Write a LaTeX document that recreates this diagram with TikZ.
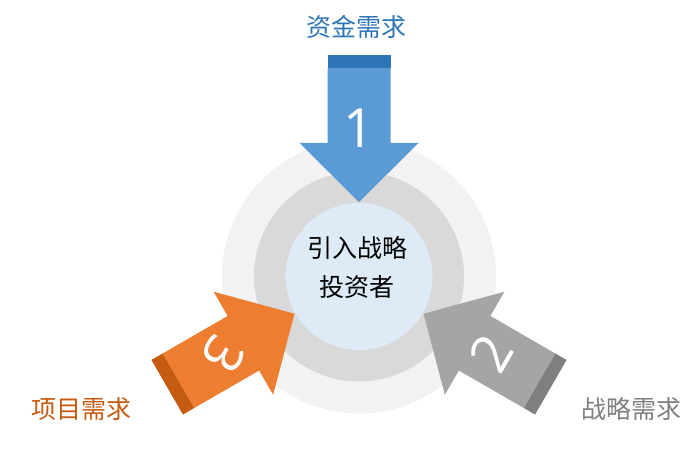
\documentclass[tikz,border=0pt]{standalone}
\usepackage{fontspec}
\setmainfont{Noto Sans CJK SC}
\newfontfamily\digitfont{Open Sans}
\usetikzlibrary{positioning}
\definecolor{ringouter}{RGB}{242,242,242}
\definecolor{ringmid}{RGB}{217,217,217}
\definecolor{corefill}{RGB}{222,235,247}
\definecolor{bluebody}{RGB}{91,155,213}
\definecolor{bluecap}{RGB}{46,117,182}
\definecolor{orangebody}{RGB}{237,125,49}
\definecolor{orangecap}{RGB}{197,90,17}
\definecolor{graybody}{RGB}{165,165,165}
\definecolor{graycap}{RGB}{127,127,127}
\tikzset{
  ring/.style={circle,inner sep=0pt,minimum size=#1},
  numtag/.style={text=white,font=\digitfont\fontsize{54}{54}\selectfont,inner sep=0pt},
  needlabel/.style={font=\fontsize{25}{30}\selectfont,inner sep=0pt}
}
% #1 turn, #2 body, #3 cap, #4 digit, #5 digit turn, #6 digit radius
\newcommand{\needarrow}[6]{
  \begin{scope}[shift={(hub)},rotate=#1]
    \fill[#2] (-31.5,208.5) -- (-31.5,133.5) -- (-59.5,133.5) -- (0,74.5)
      -- (59.5,133.5) -- (31.5,133.5) -- (31.5,208.5) -- cycle;
    \fill[#3] (-31.5,208.5) rectangle (31.5,221.5);
    \node[numtag,rotate=#5] (num#4) at (0,#6) {#4};
  \end{scope}
}

\begin{document}
\begin{tikzpicture}[x=1pt,y=1pt]
  \useasboundingbox (0,0) rectangle (700,453);
  \coordinate (hub) at (359,176.5);
  % rings
  \node[ring=274pt,fill=ringouter] (outer) at (hub) {};
  \node[ring=210pt,fill=ringmid] (middle) at (hub) {};
  \node[ring=147pt,fill=corefill] (core) at (hub) {};
  % arrows
  \needarrow{0}{bluebody}{bluecap}{1}{0}{148.5}
  \needarrow{120}{orangebody}{orangecap}{3}{-120}{156}
  \needarrow{-120}{graybody}{graycap}{2}{60}{153}
  % texts
  \node[align=center,font=\fontsize{25}{39}\selectfont] (title) at (357,185.5) {引入战略\\投资者};
  \node[needlabel,text=bluecap] (fund) at (356.5,426) {资金需求};
  \node[needlabel,text=orangecap] (project) at (81,44) {项目需求};
  \node[needlabel,text=graycap] (strategy) at (631,44) {战略需求};
\end{tikzpicture}
\end{document}
